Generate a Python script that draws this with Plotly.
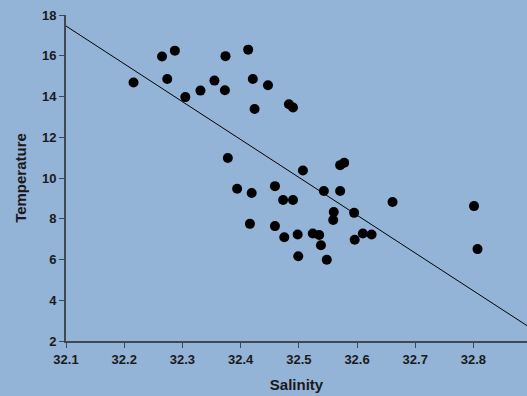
import plotly.graph_objects as go

salinity = [32.216, 32.265, 32.287, 32.274, 32.305, 32.331, 32.355, 32.374, 32.373,
            32.413, 32.421, 32.447, 32.424, 32.483, 32.490,
            32.378, 32.394, 32.419, 32.459, 32.473, 32.490, 32.416, 32.459, 32.475,
            32.498, 32.499, 32.507, 32.524, 32.535, 32.538, 32.548, 32.543, 32.560,
            32.559, 32.571, 32.578, 32.571, 32.595, 32.596, 32.610, 32.625, 32.661,
            32.801, 32.807]
temperature = [14.69, 15.96, 16.25, 14.86, 13.97, 14.29, 14.78, 15.98, 14.31,
               16.30, 14.86, 14.55, 13.39, 13.62, 13.46,
               10.98, 9.47, 9.26, 9.60, 8.92, 8.92, 7.75, 7.64, 7.09,
               7.23, 6.16, 10.37, 7.28, 7.20, 6.70, 5.99, 9.36, 8.33,
               7.94, 10.63, 10.75, 9.36, 8.29, 6.97, 7.28, 7.23, 8.82,
               8.62, 6.51]

# trend line: T = intercept + slope * (S - 32.1)
fit_x = [32.1, 32.892]
fit_intercept = 17.46
fit_slope = -18.57
fit_y = [fit_intercept + fit_slope * (s - 32.1) for s in fit_x]

x_ticks = [32.1, 32.2, 32.3, 32.4, 32.5, 32.6, 32.7, 32.8]
y_ticks = [2, 4, 6, 8, 10, 12, 14, 16, 18]

bg = "#93b3d7"
axis_col = "#404854"
font_col = "#1a1a1a"

fig = go.Figure()
fig.add_trace(go.Scatter(x=fit_x, y=fit_y, mode="lines",
                         line=dict(color="black", width=1), hoverinfo="skip"))
fig.add_trace(go.Scatter(x=salinity, y=temperature, mode="markers",
                         marker=dict(color="black", size=10)))

fig.update_layout(
    width=527, height=396,
    paper_bgcolor=bg, plot_bgcolor=bg,
    showlegend=False,
    margin=dict(l=66, r=0, t=15, b=55),
    font=dict(family="Liberation Sans, Arial", color=font_col),
    xaxis=dict(range=[32.1, 32.892], tickvals=x_ticks,
               ticktext=[f"<b>{v:.1f}</b>" for v in x_ticks],
               showgrid=False, zeroline=False,
               showline=True, linecolor=axis_col, linewidth=2,
               ticks="outside", ticklen=5, tickcolor=axis_col, tickwidth=1,
               tickfont=dict(size=13),
               title=dict(text="<b>Salinity</b>", font=dict(size=15), standoff=14)),
    yaxis=dict(range=[2, 18], tickvals=y_ticks,
               ticktext=[f"<b>{v}</b>" for v in y_ticks],
               showgrid=False, zeroline=False,
               showline=True, linecolor=axis_col, linewidth=2,
               ticks="outside", ticklen=5, tickcolor=axis_col, tickwidth=1,
               tickfont=dict(size=13),
               title=dict(text="<b>Temperature</b>", font=dict(size=15), standoff=12)),
)

fig.write_html("out.html")
